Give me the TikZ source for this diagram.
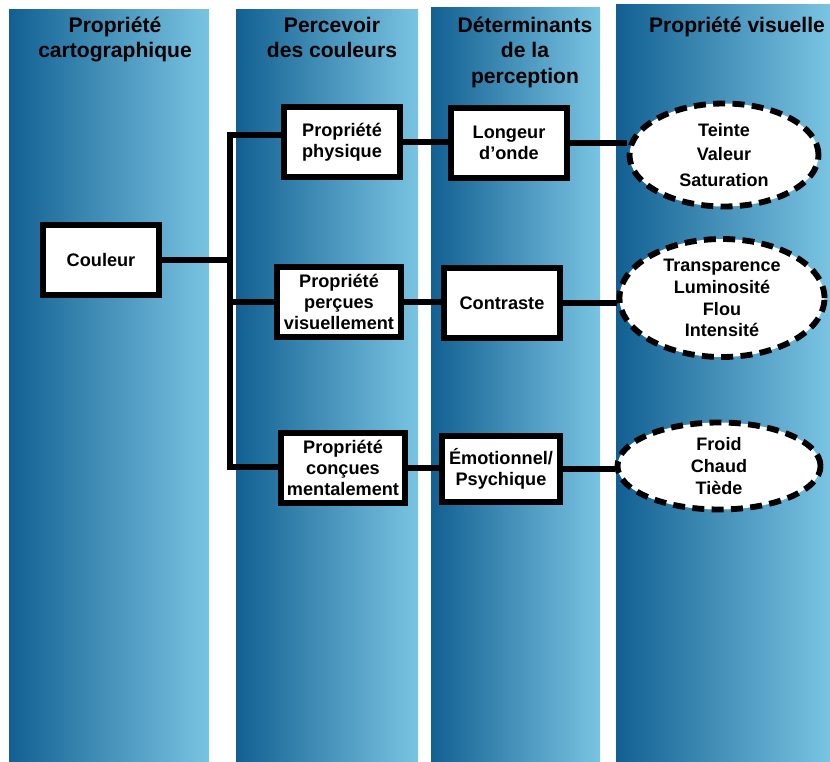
\documentclass[tikz,border=0pt]{standalone}
\usepackage{fontspec}
\setmainfont{Liberation Sans}
\usetikzlibrary{shapes.geometric}

\definecolor{bleufonce}{RGB}{18,96,146}
\definecolor{bleuclair}{RGB}{122,196,226}

\tikzset{
  colonne/.style={left color=bleufonce, right color=bleuclair},
  titre/.style={anchor=north, inner sep=0pt, align=center,
    font=\bfseries\fontsize{18}{21.5}\selectfont},
  boite/.style={draw, fill=white, line width=5.2pt, inner sep=0pt, align=center,
    minimum height=2.12cm, font=\bfseries\fontsize{15.5}{17.7}\selectfont},
  bulle/.style={ellipse, draw, fill=white, line width=5pt, inner sep=0pt,
    dash pattern=on 0.36cm off 0.22cm, align=center,
    font=\bfseries\fontsize{15.4}{18.6}\selectfont},
  lien/.style={line width=4.8pt}
}

\begin{document}
\begin{tikzpicture}[x=0.03cm, y=-0.03cm]
  \fill[white] (0,0) rectangle (830,762);
  \useasboundingbox (0,0) rectangle (830,762);
  % Columns
  \shade[colonne] (9,10) rectangle (209,762);
  \shade[colonne] (236,10) rectangle (418,762);
  \shade[colonne] (431,8) rectangle (600,762);
  \shade[colonne] (616,5) rectangle (830,762);
  \node[titre] (t1) at (115,17) {Propriété\\cartographique};
  \node[titre] (t2) at (332,17) {Percevoir\\des couleurs};
  \node[titre] (t3) at (525,17) {Déterminants\\de la\\perception};
  \node[titre] (t4) at (737,17) {Propriété visuelle};
  % Nodes
  \node[boite, minimum width=3.48cm] (couleur) at (101,260) {Couleur};
  \node[boite, minimum width=3.48cm] (physique) at (342,142) {Propriété\\physique};
  \node[boite, minimum width=3.72cm] (percues) at (339,302) {Propriété\\perçues\\visuellement};
  \node[boite, minimum width=3.72cm, minimum height=2.08cm] (concues) at (343,468) {Propriété\\conçues\\mentalement};
  \node[boite, minimum width=3.5cm] (onde) at (509,143) {Longeur\\d’onde};
  \node[boite, minimum width=3.48cm, minimum height=2.08cm] (contraste) at (502,303) {Contraste};
  \node[boite, minimum width=3.54cm, minimum height=1.98cm] (emotion) at (501,469) {Émotionnel/\\Psychique};
  \node[bulle, minimum width=5.67cm, minimum height=3.09cm] (teinte) at (724,155) {Teinte\\[2pt]Valeur\\[4pt]Saturation};
  \node[bulle, minimum width=6.15cm, minimum height=3.54cm] (transparence) at (722,298) {Transparence\\Luminosité\\Flou\\Intensité};
  \node[bulle, minimum width=6.09cm, minimum height=2.61cm] (froid) at (719,466) {Froid\\Chaud\\Tiède};
  % Edges
  \coordinate (haut) at (230,135);
  \coordinate (bas) at (230,467);
  \draw[lien] (couleur) -- (couleur -| haut);
  \draw[lien] (haut -| physique.west) -- (haut) -- (bas) -- (bas -| concues.west);
  \draw[lien] (percues) -- (percues -| haut);
  \draw[lien] (physique) -- (physique -| onde.west);
  \draw[lien] (percues) -- (percues -| contraste.west);
  \draw[lien] (concues) -- (concues -| emotion.west);
  \draw[lien] (onde) -- (onde -| teinte.west);
  \draw[lien] (contraste) -- (contraste -| transparence.west);
  \draw[lien] (emotion) -- (emotion -| froid.west);
\end{tikzpicture}
\end{document}
